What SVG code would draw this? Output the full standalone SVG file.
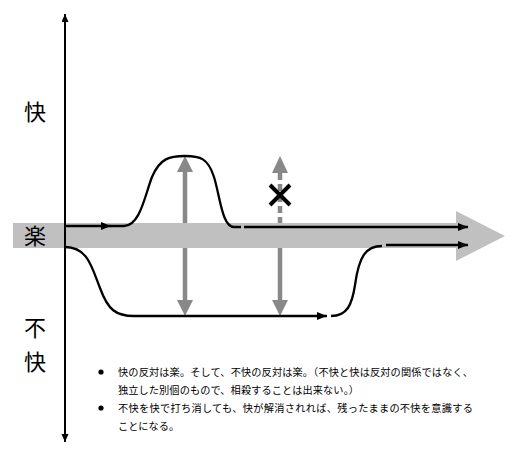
<svg xmlns="http://www.w3.org/2000/svg" width="515" height="464" viewBox="0 0 515 464">
<style>
.blk{fill:none;stroke:#000;stroke-width:2.3}
.gry{fill:none;stroke:#888;stroke-width:4.5}
.lbl{font-family:"Noto Sans CJK JP","Noto Sans CJK SC",sans-serif;font-size:22px;fill:#000;text-anchor:middle}
.txt{font-family:"Noto Sans CJK JP","Noto Sans CJK SC",sans-serif;font-size:10.2px;fill:#000}
</style>
<defs>
<marker id="ah" markerUnits="userSpaceOnUse" markerWidth="12" markerHeight="10" refX="10" refY="4" orient="auto">
<path d="M0,0 L10,4 L0,8 Z" fill="#000"/>
</marker>
<marker id="ax" markerUnits="userSpaceOnUse" markerWidth="10" markerHeight="8" refX="8" refY="3.5" orient="auto">
<path d="M0,0 L8,3.5 L0,7 Z" fill="#000"/>
</marker>
</defs>
<rect x="0" y="0" width="515" height="464" fill="#fff"/>
<g id="gray-arrows">
<line class="gry" x1="185" y1="172" x2="185" y2="300"/>
<path d="M185,156 L193,172 L177,172 Z" fill="#888"/>
<path d="M185,316 L193,300 L177,300 Z" fill="#888"/>
<line class="gry" x1="280" y1="173" x2="280" y2="226" stroke-dasharray="7,4"/>
<line class="gry" x1="280" y1="246" x2="280" y2="300"/>
<path d="M280,156 L288,173 L272,173 Z" fill="#888"/>
<path d="M280,316 L288,300 L272,300 Z" fill="#888"/>
</g>
<g id="band">
<path d="M13,223 H456 V211 L505,236 L456,261 V248 H13 Z" fill="#c0c0c0"/>
</g>
<g id="axis">
<line x1="65" y1="440" x2="65" y2="14" stroke="#000" stroke-width="2" marker-end="url(#ax)"/>
<line x1="65" y1="20" x2="65" y2="442" stroke="#000" stroke-width="2" marker-end="url(#ax)"/>
</g>
<g id="connectors">
<path class="blk" d="M65,226 H111" marker-end="url(#ah)"/>
<path class="blk" d="M110,226 H124 C140,226 145,195 152,177 C160,158 170,156 185,156 C200,156 208,158 214,177 C220,196 222,227 234,227 H241"/>
<path class="blk" d="M244,227 H468" marker-end="url(#ah)"/>
<path class="blk" d="M65,247 C88,247 92,268 100,288 C108,310 116,316 134,316 H327" marker-end="url(#ah)"/>
<path class="blk" d="M331,316 C347,316 352,305 355,285 C359,256 366,246 382,246"/>
<path class="blk" d="M386,245 H468" marker-end="url(#ah)"/>
</g>
<g id="cross">
<path d="M270,185 L290,205 M290,185 L270,205" stroke="#000" stroke-width="4" fill="none"/>
</g>
<g id="labels">
<text class="lbl" x="35" y="120">快</text>
<text class="lbl" x="35" y="244">楽</text>
<text class="lbl" x="35" y="336">不</text>
<text class="lbl" x="35" y="370">快</text>
</g>
<g id="notes">
<circle cx="101" cy="372" r="2.6" fill="#000"/>
<circle cx="101" cy="408" r="2.6" fill="#000"/>
<text class="txt" x="118" y="376" textLength="355" lengthAdjust="spacing">快の反対は楽。そして、不快の反対は楽。（不快と快は反対の関係ではなく、</text>
<text class="txt" x="118" y="394" textLength="241" lengthAdjust="spacing">独立した別個のもので、相殺することは出来ない。）</text>
<text class="txt" x="118" y="412" textLength="355" lengthAdjust="spacing">不快を快で打ち消しても、快が解消されれば、残ったままの不快を意識する</text>
<text class="txt" x="118" y="430">ことになる。</text>
</g>
</svg>
